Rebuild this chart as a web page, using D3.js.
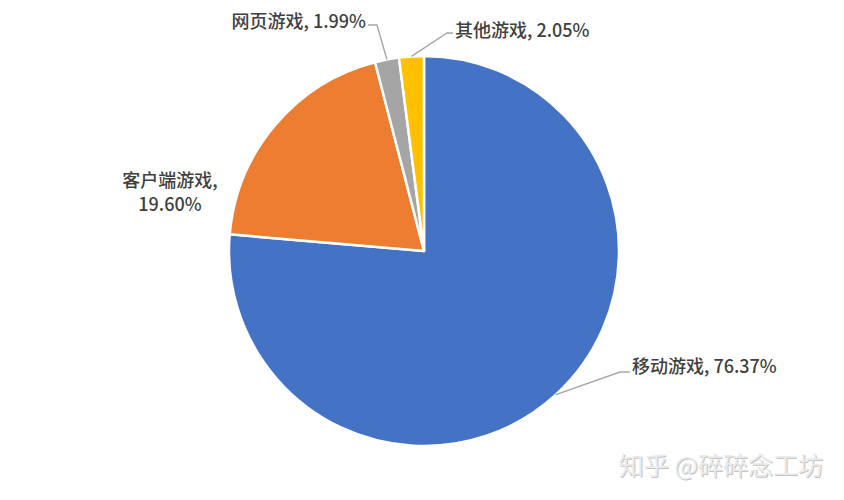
<!DOCTYPE html>
<html><head><meta charset="utf-8">
<script src="https://cdn.jsdelivr.net/npm/d3@7/dist/d3.min.js"></script>
<style>
html,body{margin:0;padding:0;background:#fff;}
svg{display:block;}
text{font-family:"Noto Sans CJK SC","Noto Sans",sans-serif;}
</style></head>
<body>
<svg id="chart" width="844" height="500"></svg>
<script>
// Data
const categories = ["移动游戏", "客户端游戏", "网页游戏", "其他游戏"];
const values = [76.37, 19.60, 1.99, 2.05];
const valueLabels = ["76.37%", "19.60%", "1.99%", "2.05%"];
const colors = ["#4472C4", "#ED7D31", "#A5A5A5", "#FFC000"];

// Layout (label placement relative to chart)
const W = 844, H = 500;
const cx = 424, cy = 251, R = 195;
const labelLayout = [
  {leader:true, elbow:[620,372], end:[630,372], text:[632,373], anchor:"start", twoLine:false},
  {leader:false, text:[170,187], anchor:"middle", twoLine:true},
  {leader:true, elbow:[377,25], end:[368,25], text:[366,28], anchor:"end", twoLine:false},
  {leader:true, elbow:[447,33], end:[453,33], text:[455,37], anchor:"start", twoLine:false}
];

const svg = d3.select("#chart");
const g = svg.append("g").attr("transform", `translate(${cx},${cy})`);

const pie = d3.pie().sort(null).value(d => d.v).startAngle(0).endAngle(2*Math.PI);
const data = categories.map((c,i)=>({c, v:values[i], lab:valueLabels[i], col:colors[i], i}));
const arcs = pie(data);
const arc = d3.arc().innerRadius(0).outerRadius(R);

g.selectAll("path.slice").data(arcs).enter().append("path")
  .attr("class","slice")
  .attr("d", arc)
  .attr("fill", d => d.data.col)
  .attr("stroke", "#fff")
  .attr("stroke-width", 2.5)
  .attr("stroke-linejoin","round");

arcs.forEach((a, i) => {
  const L = labelLayout[i];
  const mid = (a.startAngle + a.endAngle) / 2;
  const sx = cx + R * Math.sin(mid);
  const sy = cy - R * Math.cos(mid);
  if (L.leader) {
    svg.append("polyline")
      .attr("points", [[sx,sy], L.elbow, L.end].map(p=>p.join(",")).join(" "))
      .attr("fill","none")
      .attr("stroke","#A6A6A6")
      .attr("stroke-width",1.4);
  }
  const t = svg.append("text")
    .attr("x", L.text[0]).attr("y", L.text[1])
    .attr("text-anchor", L.anchor)
    .attr("fill", "#404040")
    .attr("font-size", 18)
    .attr("font-weight", 500);
  if (L.twoLine) {
    t.append("tspan").attr("x", L.text[0]).attr("dy", 0).text(a.data.c + ",");
    t.append("tspan").attr("x", L.text[0]).attr("dy", 24).text(a.data.lab);
  } else {
    t.text(a.data.c + ", " + a.data.lab);
  }
});

// watermark
const wm = "知乎 @碎碎念工坊";
svg.append("text").attr("x", 823).attr("y", 475).attr("text-anchor","end")
  .attr("font-size", 25).attr("fill","#c4c4c4").text(wm)
  .attr("transform","translate(1,1)");
svg.append("text").attr("x", 823).attr("y", 475).attr("text-anchor","end")
  .attr("font-size", 25).attr("fill","#ebebeb").text(wm);
</script>
</body></html>
